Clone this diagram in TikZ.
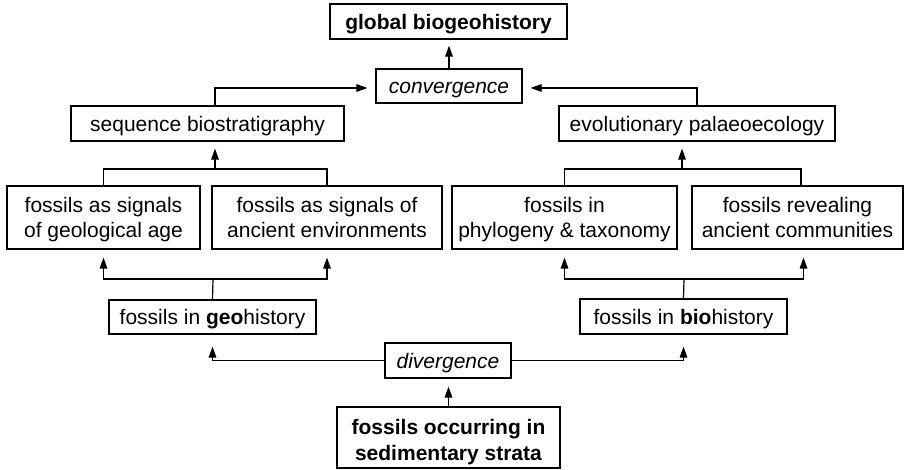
\documentclass[tikz,border=0pt]{standalone}
\usepackage{fontspec}
\setmainfont{Liberation Sans}
\usetikzlibrary{arrows.meta}
\newcommand{\tstrut}{\rule{0pt}{11pt}}
\newcommand{\ttstrut}{\rule{0pt}{13pt}}
\newcommand{\bstrut}{\rule[-3.3pt]{0pt}{3.3pt}}
\tikzset{
  box/.style={draw, line width=0.6pt, align=center, inner sep=0pt,
    font=\fontsize{10.5}{12.8}\selectfont,
    execute at begin node=\tstrut, execute at end node=\bstrut},
  twobox/.style={draw, line width=0.6pt, align=center, inner sep=0pt,
    font=\fontsize{10.5}{12.8}\selectfont, minimum height=31.5pt},
  ln/.style={line width=0.6pt},
  arr/.style={ln, -{Triangle[length=5.5pt,width=3.8pt]}, shorten >=4pt}
}
\begin{document}
\begin{tikzpicture}[x=0.5pt,y=-0.5pt]
\useasboundingbox (0,0) rectangle (905,470);
% boxes
\node [box, minimum width=118.5pt, minimum height=17.5pt] (glob) at (448.5,21.5) {\textbf{global biogeohistory}};
\node [box, minimum width=73pt, minimum height=17pt] (conv) at (449,86) {\textit{convergence}};
\node [box, minimum width=136.5pt, minimum height=17.5pt] (seq) at (207.5,123.5) {sequence biostratigraphy};
\node [box, minimum width=138pt, minimum height=17.5pt] (evo) at (697,123.5) {evolutionary palaeoecology};
\node [twobox, minimum width=96.5pt] (age) at (103.5,217.5) {\tstrut fossils as signals\\of geological age\bstrut};
\node [twobox, minimum width=115pt] (env) at (327,217.5) {\tstrut fossils as signals of\\ancient environments\bstrut};
\node [twobox, minimum width=112.5pt] (phy) at (564.5,217.5) {\tstrut fossils in\\phylogeny \& taxonomy\bstrut};
\node [twobox, minimum width=105.5pt] (com) at (797.5,217.5) {\tstrut fossils revealing\\ancient communities\bstrut};
\node [box, minimum width=103.5pt, minimum height=17pt] (geo) at (212.5,317) {fossils in \textbf{geo}history};
\node [box, minimum width=103.5pt, minimum height=17.5pt] (bio) at (683.5,316.5) {fossils in \textbf{bio}history};
\node [box, minimum width=63pt, minimum height=17.5pt] (div) at (448,360.5) {\textit{divergence}};
\node [twobox, minimum width=111.5pt, minimum height=30.5pt] (strata) at (448.5,437.5) {\ttstrut\textbf{fossils occurring in}\\\textbf{sedimentary strata}\bstrut};
% fork points
\coordinate (gf) at (213,279);
\coordinate (bf) at (684,279);
\coordinate (sf) at (215,169);
\coordinate (ef) at (682,169);
\coordinate (cl) at ([yshift=-1pt]conv.west);
\coordinate (cr) at ([yshift=-1pt]conv.east);
% lower half
\draw [arr] (strata.north) -- (strata.north |- div.south);
\draw [arr, shorten >=6pt] (div.west) -| (geo.south);
\draw [arr, shorten >=6pt] (div.east) -| (bio.south);
\draw [ln] (geo.north) -- (gf);
\draw [arr] (gf) -| (age.south);
\draw [arr] (gf) -| (env.south);
\draw [ln] (bio.north) -- (bf);
\draw [arr] (bf) -| (phy.south);
\draw [arr] (bf) -| ([xshift=3pt]com.south);
% upper half
\draw [ln] (age.north) |- (sf) -| (env.north);
\draw [arr, shorten >=3.5pt] (sf) -- (sf |- seq.south);
\draw [ln] (phy.north) |- (ef) -| ([xshift=1.75pt]com.north);
\draw [arr, shorten >=3.5pt] (ef) -- (ef |- evo.south);
\draw [arr] (sf |- seq.north) |- (cl);
\draw [arr] (evo.north) |- (cr);
\draw [arr, shorten >=3pt] (conv.north) -- (conv.north |- glob.south);
\end{tikzpicture}
\end{document}
